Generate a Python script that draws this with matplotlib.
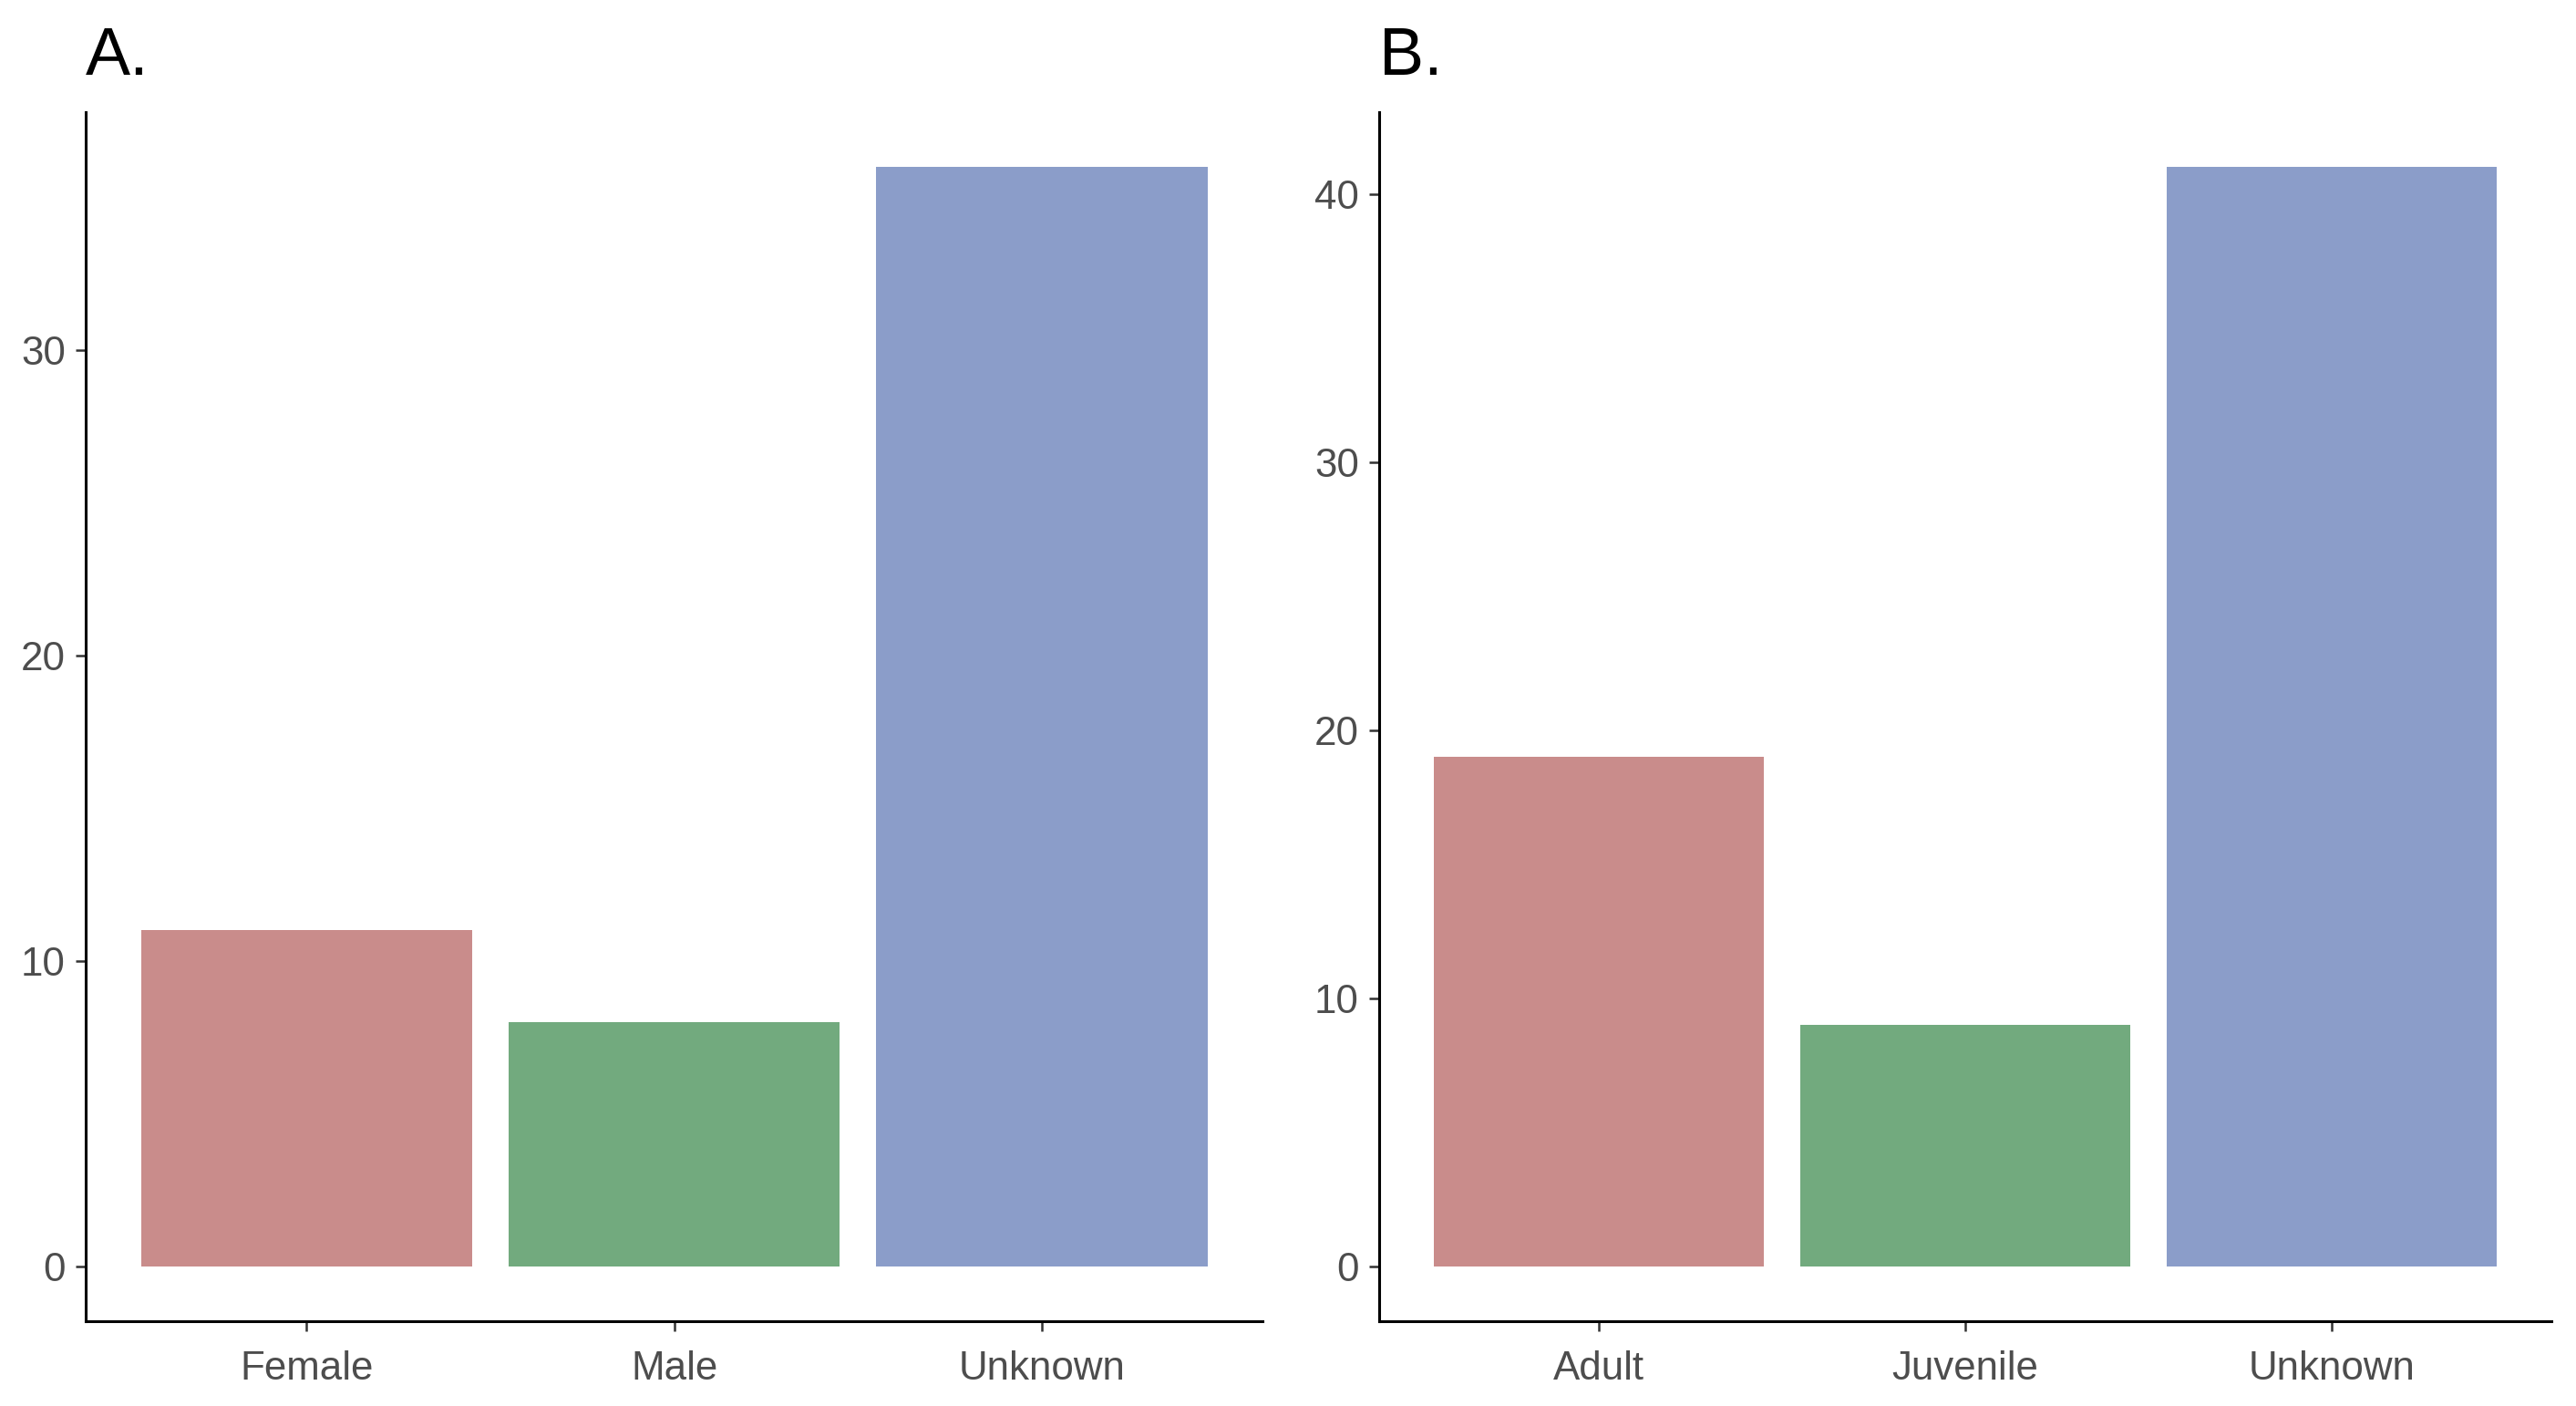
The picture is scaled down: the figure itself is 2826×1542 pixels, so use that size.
import matplotlib.pyplot as plt

# panel A : sex
sex_cats = ['Female', 'Male', 'Unknown']
sex_counts = [11, 8, 36]

# panel B : age class
age_cats = ['Adult', 'Juvenile', 'Unknown']
age_counts = [19, 9, 41]

bar_colors = ['#C98C8B', '#72AA7E', '#8B9DC9']

plt.rcParams['font.family'] = ['Liberation Sans', 'DejaVu Sans']

fig = plt.figure(figsize=(14.13, 7.71), dpi=200)
ax_a = fig.add_axes([0.0333, 0.0603, 0.4568, 0.8599])
ax_b = fig.add_axes([0.5354, 0.0603, 0.4551, 0.8599])


def draw_panel(ax, cats, counts, title, yticks):
    x = range(1, len(cats) + 1)
    ax.bar(x, counts, width=0.9, color=bar_colors, edgecolor='none')
    ax.set_xlim(0.4, len(cats) + 0.6)
    top = max(counts)
    ax.set_ylim(-0.05 * top, top * 1.05)
    ax.set_xticks(list(x))
    ax.set_xticklabels(cats)
    ax.set_yticks(yticks)
    for side in ['top', 'right']:
        ax.spines[side].set_visible(False)
    for side in ['left', 'bottom']:
        ax.spines[side].set_linewidth(1.1)
        ax.spines[side].set_color('black')
    ax.tick_params(axis='both', length=4, width=0.9, color='#333333',
                   labelcolor='#4D4D4D', labelsize=15.8)
    ax.tick_params(axis='y', pad=4)
    ax.tick_params(axis='x', pad=7.5)
    ax.set_title(title, loc='left', fontsize=26.5, color='black', pad=14.8)


draw_panel(ax_a, sex_cats, sex_counts, 'A.', [0, 10, 20, 30])
draw_panel(ax_b, age_cats, age_counts, 'B.', [0, 10, 20, 30, 40])

fig.savefig('out.png', dpi=200, facecolor='white')
